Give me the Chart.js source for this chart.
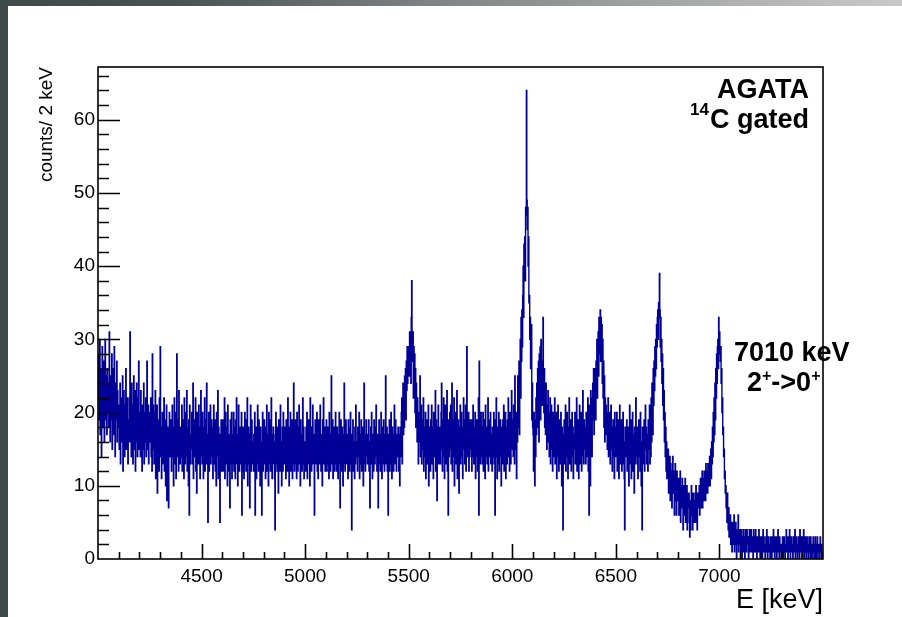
<!DOCTYPE html>
<html><head><meta charset="utf-8">
<script src="https://cdn.jsdelivr.net/npm/chart.js@4.4.0/dist/chart.umd.min.js"></script>
<style>html,body{margin:0;padding:0;background:#fff;overflow:hidden}canvas{display:block}</style>
</head><body>
<canvas id="c" width="902" height="617"></canvas>
<script>
// 2 keV bins from 4000 keV to 7500 keV
const binStart = 4000, binWidth = 2, xMin = 4000, xMax = 7500, yMax = 67.2;
const a4000 = [
22,28,19,25,30,17,21,26,14,23,29,20,18,24,27,16,22,30,19,25,21,17,26,23,20,
24,18,31,21,16,25,19,23,28,15,20,26,17,22,29,18,14,24,21,19,27,16,23,20,18,
21,15,19,24,13,18,22,16,20,25,12,17,23,19,14,21,18,26,15,20,17,22,13,19,16,
18,22,31,16,20,14,24,17,19,13,21,25,15,18,23,12,20,16,24,19,14,22,17,27,15,
17,20,14,23,16,19,12,21,18,15,24,13,17,20,16,22,14,19,27,15,18,21,13,17,20,
16,19,22,14,18,12,28,17,21,15,13,20,16,23,11,18,14,21,9,17,15,19,12,22,16,
29,14,18,11,16,20,13,17,15,22,12,19,14,10,17,21,8,15,18,13,7,16,20,14,17,
15,19,12,17,21,14,16,10,18,22,13,15,20,11,17,28,16,14,19,12,23,15,18,13,16,
14,18,21,12,16,19,15,11,22,17,13,20,14,16,23,12,18,15,10,19,6,21,13,17,15,
16,20,13,17,24,11,15,19,14,18,22,12,16,9,20,15,17,13,21,14,18,11,16,23,14];
const a4500 = [
17,13,20,15,11,18,14,22,12,16,19,13,24,15,17,5,14,20,12,18,15,21,13,16,19,
14,18,11,16,21,13,15,19,12,17,10,20,14,16,23,11,18,15,13,5,17,14,19,12,16,
15,19,12,17,14,22,11,16,20,13,15,18,10,21,14,17,12,16,7,19,13,15,20,11,17,
13,16,20,12,18,14,11,19,15,22,13,17,10,16,21,14,12,18,15,13,17,20,6,15,12,
18,14,11,17,20,13,16,12,19,15,22,10,14,18,13,17,7,16,21,12,15,19,13,16,14,
12,17,15,20,6,14,18,11,16,13,21,15,12,19,14,17,10,18,13,16,6,15,20,12,17,
15,19,13,16,11,18,14,21,12,17,15,10,20,13,16,19,12,14,22,15,11,17,13,18,16,
14,11,4,17,20,13,16,12,18,15,9,19,14,17,12,21,13,16,10,15,18,12,20,14,16,
13,18,15,11,19,14,17,12,22,16,13,10,18,15,20,12,16,14,19,11,17,13,24,15,12,
16,19,13,17,11,20,14,12,18,15,21,13,16,10,19,14,17,12,15,22,13,18,11,16,14];
const a5000 = [
15,12,18,14,20,11,16,13,19,15,17,10,22,14,16,12,18,15,21,13,17,14,6,16,19,
13,17,15,20,12,16,11,19,14,18,13,21,15,12,17,16,10,19,14,22,13,15,18,12,16,
14,19,12,16,13,18,15,11,20,14,17,12,16,25,13,15,19,11,17,14,18,12,15,20,13,
16,12,18,14,11,17,15,20,13,7,16,19,12,15,18,14,10,17,13,24,15,12,16,19,14,
13,17,15,11,19,14,16,12,18,20,13,15,4,17,14,19,12,16,15,11,18,13,21,14,16,
15,12,18,14,16,20,11,17,13,15,19,12,16,14,18,10,15,24,13,17,12,16,19,14,15,
13,17,14,19,12,16,7,15,18,13,20,14,11,17,15,12,19,16,13,18,14,21,15,12,17,
14,7,16,19,13,17,12,15,20,14,11,18,16,13,19,15,12,17,14,25,13,16,18,12,15,
6,17,14,19,12,16,15,20,13,11,18,15,17,12,16,21,14,13,19,15,12,17,14,16,18,
16,12,17,10,18,14,15,20,22,13,19,24,17,22,18,25,21,26,19,27,23,29,24,28,26];
const a5500 = [
29,25,31,27,30,24,33,38,29,27,31,22,29,25,28,20,26,18,24,21,16,22,19,13,20,
16,20,25,14,18,21,13,17,19,15,22,12,16,18,14,20,11,17,15,19,13,16,21,10,18,
14,17,12,19,15,21,13,16,18,11,20,14,17,15,23,12,19,16,8,18,14,21,13,17,15,
18,13,16,20,24,15,12,19,14,22,17,11,16,21,13,18,15,23,12,17,6,19,14,16,20,
15,21,13,17,24,12,16,19,14,22,10,18,15,20,13,17,23,11,16,19,14,9,18,15,21,
13,17,20,14,18,11,16,22,15,19,13,17,21,12,16,29,14,18,15,20,12,17,14,19,16,
15,19,12,17,14,21,16,13,18,15,20,11,17,14,19,16,12,18,22,6,27,15,13,17,20,
14,18,13,16,20,12,17,15,19,11,21,14,16,18,13,17,22,12,15,19,14,16,20,13,17,
15,12,18,14,16,20,13,17,6,19,15,22,14,11,18,16,13,20,12,17,15,19,14,10,18,
16,13,19,15,21,12,17,14,20,11,18,16,13,19,15,22,14,17,12,20,16,13,18,23,15];
const a6000 = [
16,19,14,21,17,13,25,18,15,20,11,19,16,25,18,22,27,17,24,30,22,33,27,34,29,
36,40,33,43,41,44,38,48,47,64,49,45,48,40,44,35,36,30,33,26,27,32,19,24,18,
17,12,20,15,10,19,14,22,17,24,18,26,21,27,16,28,22,29,19,30,24,27,21,25,33,
23,20,26,18,22,17,24,19,15,21,18,23,16,20,14,19,22,13,17,21,15,18,12,20,16,
14,19,22,13,17,15,20,11,18,16,21,14,12,19,15,17,13,20,16,10,18,14,4,17,15,
19,13,16,21,12,17,15,20,14,11,18,16,22,13,17,15,19,12,16,20,14,18,11,17,15,
16,20,13,17,15,22,12,18,14,19,11,16,21,13,17,15,20,12,18,14,23,16,13,19,15,
15,18,13,20,16,14,19,22,12,17,6,21,15,10,23,18,22,14,20,24,19,26,17,23,21,
26,19,27,24,30,22,29,31,25,33,28,32,34,27,33,29,32,24,30,22,27,18,25,16,22,
19,21,17,20,15,18,22,14,19,16,20,13,17,21,15,18,12,16,19,14,17,11,20,15,18];
const a6500 = [
14,17,20,12,16,19,15,11,18,21,13,16,14,19,12,17,15,20,13,16,11,4,18,14,17,
15,19,12,16,14,18,10,17,21,13,15,19,11,16,14,20,12,17,15,9,18,13,16,22,14,
16,13,18,11,15,19,14,17,12,20,15,10,16,4,18,13,17,14,19,12,16,21,15,18,13,
14,17,12,19,15,18,21,13,20,14,22,16,24,19,17,26,21,27,23,29,25,30,26,32,29,
33,34,30,35,33,39,34,29,33,27,30,24,28,21,26,19,23,16,20,14,18,12,16,11,14,
12,15,9,13,11,14,8,13,10,12,7,11,14,9,12,10,6,11,13,8,10,6,12,8,11,
9,11,6,10,8,12,5,9,10,7,11,8,4,9,10,6,8,11,5,9,7,10,4,8,9,
7,9,5,3,8,4,7,10,6,8,4,9,6,5,8,5,9,7,10,5,8,4,9,7,8,
8,10,6,9,11,7,10,8,12,7,11,9,8,12,9,11,8,13,9,12,10,9,13,10,12,
12,14,10,13,15,11,16,13,18,14,20,16,22,17,24,19,26,22,28,24,29,30,26,33,30];
const a7000 = [
31,28,27,29,24,26,20,22,17,18,14,15,11,12,9,10,7,8,5,9,6,4,7,3,5,
4,6,2,5,3,1,4,5,2,3,6,1,4,2,5,3,0,4,2,3,6,1,3,4,2,
3,1,4,2,0,3,2,4,1,3,2,0,4,3,1,2,4,2,3,1,0,3,4,2,1,
2,4,3,1,2,3,0,4,2,1,3,2,4,1,2,0,3,2,1,3,4,2,1,0,3,
1,3,2,0,2,4,1,3,2,1,0,2,3,1,4,2,0,1,3,2,1,2,0,3,1,
2,0,3,1,2,4,1,2,0,3,1,2,3,0,2,1,4,2,1,0,3,2,1,2,0,
1,2,3,0,2,1,3,2,0,1,2,4,1,3,2,0,1,3,2,4,1,0,2,3,1,
2,1,0,3,2,1,2,4,0,1,3,2,1,0,2,3,1,2,0,4,1,2,3,1,0,
3,1,2,4,0,2,1,3,2,0,1,3,2,1,0,2,3,1,2,0,3,2,1,0,2,
1,3,2,0,2,1,3,0,1,2,0,3,1,2,1,0,2,1,3,1,0,2,1,1,0];
const xTickValues = [4500, 5000, 5500, 6000, 6500, 7000];
const yTickValues = [0, 10, 20, 30, 40, 50, 60];
const xMinorStep = 100, xMajorStep = 500, yMinorStep = 2, yMajorStep = 10;

const counts = [].concat(a4000, a4500, a5000, a5500, a6000, a6500, a7000);
const points = counts.map((v, i) => ({x: binStart + i * binWidth, y: v}));
points.push({x: xMax, y: counts[counts.length - 1]});

const FONT = '"Liberation Sans", Arial, Helvetica, sans-serif';

const bgPlugin = {
  id: 'bg',
  beforeDraw(chart) {
    const ctx = chart.ctx;
    ctx.save();
    ctx.fillStyle = '#ffffff';
    ctx.fillRect(0, 0, chart.width, chart.height);
    const g = ctx.createLinearGradient(0, 0, chart.width, 0);
    g.addColorStop(0, '#3e4949');
    g.addColorStop(0.2, '#4a5353');
    g.addColorStop(0.5, '#838686');
    g.addColorStop(0.75, '#a6a7a7');
    g.addColorStop(1, '#c9c9c9');
    ctx.fillStyle = g;
    ctx.fillRect(0, 0, chart.width, 6);
    ctx.fillStyle = '#3e4949';
    ctx.fillRect(0, 0, 8, chart.height);
    ctx.restore();
  }
};

const framePlugin = {
  id: 'frame',
  afterDatasetsDraw(chart) {
    const {ctx, chartArea: a, scales: {x, y}} = chart;
    ctx.save();
    // annotations
    ctx.fillStyle = '#000';
    ctx.textBaseline = 'alphabetic';
    ctx.textAlign = 'right';
    ctx.font = 'bold 27px ' + FONT;
    ctx.fillText('AGATA', 809, 98);
    ctx.fillText('C gated', 809, 128);
    const wC = ctx.measureText('C gated').width;
    ctx.font = 'bold 17px ' + FONT;
    ctx.fillText('14', 809 - wC - 1, 115);
    ctx.textAlign = 'left';
    ctx.font = 'bold 27px ' + FONT;
    ctx.fillText('7010 keV', 734, 361);
    let cx = 747;
    ctx.fillText('2', cx, 391); cx += ctx.measureText('2').width;
    ctx.font = 'bold 16px ' + FONT;
    ctx.fillText('+', cx, 381); cx += ctx.measureText('+').width;
    ctx.font = 'bold 27px ' + FONT;
    ctx.fillText('->0', cx, 391); cx += ctx.measureText('->0').width;
    ctx.font = 'bold 16px ' + FONT;
    ctx.fillText('+', cx, 381);
    // frame and ticks
    ctx.strokeStyle = '#000';
    ctx.lineWidth = 1.6;
    ctx.strokeRect(a.left, a.top, a.right - a.left, a.bottom - a.top);
    ctx.beginPath();
    for (let v = xMin + xMinorStep; v < xMax; v += xMinorStep) {
      const px = Math.round(x.getPixelForValue(v)) + 0.5;
      const len = v % xMajorStep === 0 ? 15 : 7;
      ctx.moveTo(px, a.bottom); ctx.lineTo(px, a.bottom - len);
    }
    for (let v = yMinorStep; v < yMax; v += yMinorStep) {
      const py = Math.round(y.getPixelForValue(v)) + 0.5;
      const len = v % yMajorStep === 0 ? 22 : 11;
      ctx.moveTo(a.left, py); ctx.lineTo(a.left + len, py);
    }
    ctx.stroke();
    ctx.restore();
  }
};

new Chart(document.getElementById('c'), {
  type: 'line',
  data: {
    datasets: [{
      data: points,
      stepped: true,
      borderColor: '#000099',
      borderWidth: 1.4,
      pointRadius: 0,
      fill: false,
      tension: 0
    }]
  },
  options: {
    responsive: false,
    animation: false,
    events: [],
    layout: {padding: {left: 8, right: 79, top: 67, bottom: 0}},
    plugins: {legend: {display: false}, tooltip: {enabled: false}},
    scales: {
      x: {
        type: 'linear', min: xMin, max: xMax,
        afterBuildTicks: s => { s.ticks = xTickValues.map(v => ({value: v})); },
        grid: {display: false, drawTicks: false},
        border: {display: false},
        ticks: {autoSkip: false, maxRotation: 0, padding: 6, color: '#000',
                font: {family: FONT, size: 19}, callback: v => String(v)},
        title: {display: true, text: 'E [keV]', align: 'end', color: '#000',
                font: {family: FONT, size: 27}, padding: {top: 0, bottom: 0}},
        afterFit: s => { s.height = 58; }
      },
      y: {
        type: 'linear', min: 0, max: yMax,
        afterBuildTicks: s => { s.ticks = yTickValues.map(v => ({value: v})); },
        grid: {display: false, drawTicks: false},
        border: {display: false},
        ticks: {padding: 3, color: '#000', font: {family: FONT, size: 19}, callback: v => String(v)},
        title: {display: true, text: 'counts/ 2 keV', align: 'end', color: '#000',
                font: {family: FONT, size: 19}, padding: {top: 27, bottom: 0}},
        afterFit: s => { s.width = 90; }
      }
    }
  },
  plugins: [bgPlugin, framePlugin]
});
</script>
</body></html>
